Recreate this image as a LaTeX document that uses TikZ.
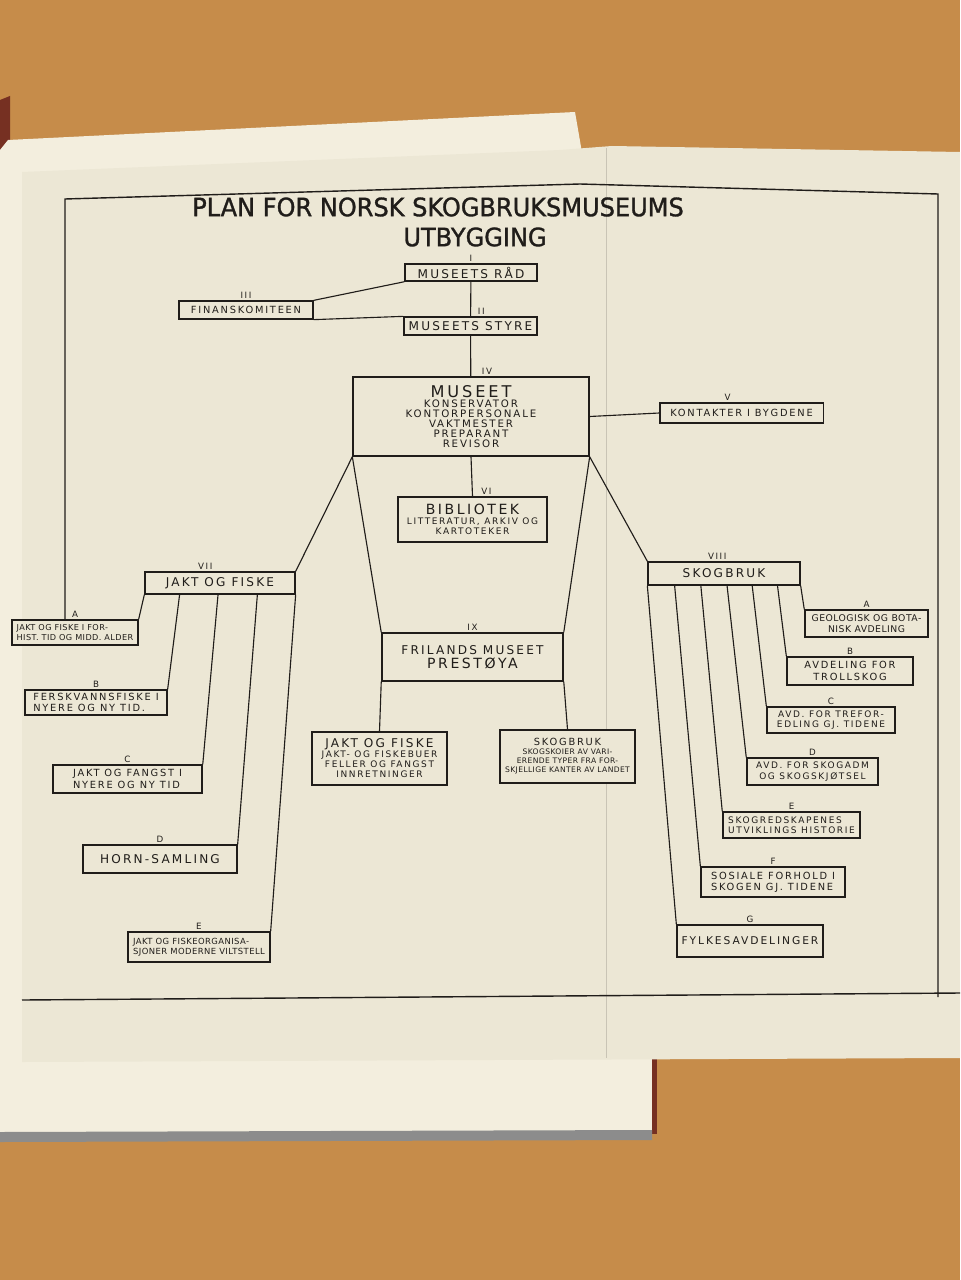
\documentclass[tikz,border=0pt]{standalone}
\usepackage{fontspec}
\usetikzlibrary{positioning, calc}
\usepackage{xcolor}

\newfontfamily\handfont[LetterSpace=18]{DejaVu Sans}
\newfontfamily\handtight[LetterSpace=5]{DejaVu Sans}
\newfontfamily\titlefont[FakeStretch=0.95, FakeBold=1.2]{DejaVu Sans}
\newcommand{\numhand}{\handfont\fontsize{6.2}{7}\selectfont}
\newcommand{\tinyhand}{\handtight\fontsize{5.8}{6.6}\selectfont}
\newcommand{\smallerhand}{\handfont\fontsize{6.4}{7.3}\selectfont}
\newcommand{\smallhand}{\handfont\fontsize{7}{8}\selectfont}
\newcommand{\midhand}{\handfont\fontsize{8.6}{9.6}\selectfont}
\newcommand{\bighand}{\handfont\fontsize{11.5}{12.5}\selectfont}

\definecolor{wood}{RGB}{198,140,74}
\definecolor{paper}{RGB}{236,231,213}
\definecolor{pagelow}{RGB}{243,238,222}
\definecolor{cover}{RGB}{118,48,34}
\definecolor{ink}{RGB}{32,29,26}

\begin{document}
\begin{tikzpicture}[
    x=0.025cm, y=-0.025cm,
    box/.style={draw=ink, fill=paper, line width=0.9pt, align=center, inner sep=1pt, text=ink, font=\smallhand},
    num/.style={text=ink, inner sep=1.2pt, font=\numhand},
    link/.style={draw=ink, line width=0.8pt},
    frame/.style={draw=ink, line width=1pt}
  ]
    % photo: table, book and fold-out sheet
    \fill[wood] (0,0) rectangle (960,1280);
    \fill[cover] (0,100) -- (10,96) -- (10,1140) -- (0,1140) -- cycle;
    \fill[pagelow] (8,140) -- (575,112) -- (585,170) -- (652,170) -- (652,1132) -- (0,1136) -- (0,150) -- cycle;
    \fill[cover] (652,1058) rectangle (657,1134);
    \fill[black!45] (0,1132) -- (652,1130) -- (652,1140) -- (0,1142) -- cycle;
    \fill[paper] (22,172) -- (560,150) -- (612,146) -- (960,152) -- (960,1058) -- (22,1062) -- cycle;
    \draw[paper!85!black, line width=0.6pt] (606,148) -- (606,1058);
    \draw[frame] (65,620) -- (65,199) -- (580,184) -- (938,194) -- (938,997);
    \draw[frame] (22,1000) -- (960,993);

    % title
    \node[text=ink, font=\titlefont\fontsize{18}{20}\selectfont, inner sep=0pt] (title1) at (438,207) {PLAN FOR NORSK SKOGBRUKSMUSEUMS};
    \node[text=ink, font=\titlefont\fontsize{18}{20}\selectfont, inner sep=0pt] (title2) at (475,237) {UTBYGGING};

    % top levels
    \node[box, font=\midhand, minimum width=3.3cm, minimum height=0.43cm, label={[num]above:I}] (raad) at (471,272.5) {MUSEETS RÅD};
    \node[box, font=\midhand, minimum width=3.33cm, minimum height=0.45cm, label={[num,xshift=0.27cm]above:II}] (styre) at (470.5,326) {MUSEETS STYRE};
    \node[box, minimum width=3.35cm, minimum height=0.45cm, label={[num]above:III}] (finans) at (246,310) {FINANSKOMITEEN};
    \node[box, font=\handfont\fontsize{7.3}{7.2}\selectfont, minimum width=5.9cm, minimum height=1.98cm, label={[num,xshift=0.4cm]above:IV}] (museet) at (471,416.5)
    {{\bighand MUSEET}\\KONSERVATOR\\KONTORPERSONALE\\VAKTMESTER\\PREPARANT\\REVISOR};
    \node[box, minimum width=4.08cm, minimum height=0.5cm, label={[num,xshift=-0.35cm]above:V}] (kontakt) at (741.5,413) {KONTAKTER I BYGDENE};
    \node[box, font=\smallerhand, minimum width=3.73cm, minimum height=1.13cm, label={[num,xshift=0.35cm]above:VI}] (bibl) at (472.5,519.5)
    {{\handfont\fontsize{10}{11}\selectfont BIBLIOTEK}\\LITTERATUR, ARKIV OG\\KARTOTEKER};
    \node[box, font=\midhand, minimum width=3.75cm, minimum height=0.55cm, label={[num,xshift=-0.37cm]above:VII}] (jakt) at (220,583) {JAKT OG FISKE};
    \node[box, font=\midhand, minimum width=3.8cm, minimum height=0.58cm, label={[num,xshift=-0.17cm]above:VIII}] (skog) at (724,573.5) {SKOGBRUK};
    \node[box, font=\midhand, minimum width=4.53cm, minimum height=1.2cm, label={[num]above:IX}] (fril) at (472.5,657)
    {FRILANDS MUSEET\\{\handfont\fontsize{10}{12}\selectfont PRESTØYA}};
    \node[box, font=\handfont\fontsize{6.4}{7.1}\selectfont, minimum width=3.38cm, minimum height=1.33cm] (fjakt) at (379.5,758.5)
    {{\midhand JAKT OG FISKE}\\JAKT- OG FISKEBUER\\FELLER OG FANGST\\INNRETNINGER};
    \node[box, font=\handtight\fontsize{5.4}{6.4}\selectfont, minimum width=3.38cm, minimum height=1.33cm] (fskog) at (567.5,756.5)
    {{\smallhand SKOGBRUK}\\SKOGSKOIER AV VARI-\\ERENDE TYPER FRA FOR-\\SKJELLIGE KANTER AV LANDET};

    % jakt og fiske
    \node[box, font=\tinyhand, align=left, minimum width=3.15cm, minimum height=0.63cm, label={[num]above:A}] (jA) at (75,632.5) {JAKT OG FISKE I FOR-\\HIST. TID OG MIDD. ALDER};
    \node[box, align=left, minimum width=3.55cm, minimum height=0.63cm, label={[num]above:B}] (jB) at (96,702.5) {FERSKVANNSFISKE I\\NYERE OG NY TID.};
    \node[box, align=left, minimum width=3.73cm, minimum height=0.7cm, label={[num]above:C}] (jC) at (127.5,779) {JAKT OG FANGST I\\NYERE OG NY TID};
    \node[box, font=\midhand, minimum width=3.85cm, minimum height=0.7cm, label={[num]above:D}] (jD) at (160,859) {HORN-SAMLING};
    \node[box, font=\handtight\fontsize{6}{7}\selectfont, align=left, minimum width=3.55cm, minimum height=0.75cm, label={[num]above:E}] (jE) at (199,947) {JAKT OG FISKEORGANISA-\\SJONER MODERNE VILTSTELL};

    % skogbruk
    \node[box, font=\handtight\fontsize{6.6}{7.4}\selectfont, minimum width=3.08cm, minimum height=0.68cm, label={[num]above:A}] (sA) at (866.5,623.5) {GEOLOGISK OG BOTA-\\NISK AVDELING};
    \node[box, minimum width=3.15cm, minimum height=0.7cm, label={[num]above:B}] (sB) at (850,671) {AVDELING FOR\\TROLLSKOG};
    \node[box, font=\smallerhand, minimum width=3.2cm, minimum height=0.65cm, label={[num]above:C}] (sC) at (831,720) {AVD. FOR TREFOR-\\EDLING GJ. TIDENE};
    \node[box, font=\smallerhand, minimum width=3.28cm, minimum height=0.68cm, label={[num]above:D}] (sD) at (812.5,771.5) {AVD. FOR SKOGADM\\OG SKOGSKJØTSEL};
    \node[box, font=\smallerhand, align=left, minimum width=3.43cm, minimum height=0.65cm, label={[num]above:E}] (sE) at (791.5,825) {SKOGREDSKAPENES\\UTVIKLINGS HISTORIE};
    \node[box, align=left, minimum width=3.6cm, minimum height=0.75cm, label={[num]above:F}] (sF) at (773,882) {SOSIALE FORHOLD I\\SKOGEN GJ. TIDENE};
    \node[box, font=\handfont\fontsize{7.6}{8.6}\selectfont, minimum width=3.65cm, minimum height=0.8cm, label={[num]above:G}] (sG) at (750,941) {FYLKESAVDELINGER};

    % connectors
    \draw[link] (finans.north east) -- (raad.south west);
    \draw[link] (finans.south east) -- (styre.north west);
    \draw[link] (raad) -- (styre);
    \draw[link] (styre) -- (museet);
    \draw[link] (museet.east) -- (kontakt.west);
    \draw[link] (museet.south) -- (bibl.north);
    \draw[link] (museet.south west) -- (fril.north west);
    \draw[link] (museet.south east) -- (fril.north east);
    \draw[link] (museet.south west) -- (jakt.north east);
    \draw[link] (museet.south east) -- (skog.north west);
    \draw[link] (fril.south west) -- (fjakt.north);
    \draw[link] (fril.south east) -- (fskog.north);
    \draw[link] (jakt.south west) -- (jA.north east);
    \foreach \f/\c in {0.233/jB, 0.487/jC, 0.747/jD}
      \draw[link] ($(jakt.south west)!\f!(jakt.south east)$) -- (\c.north east);
    \draw[link] (jakt.south east) -- (jE.north east);
    \draw[link] (skog.south west) -- (sG.north west);
    \foreach \f/\c in {0.178/sF, 0.349/sE, 0.52/sD, 0.684/sC, 0.849/sB}
      \draw[link] ($(skog.south west)!\f!(skog.south east)$) -- (\c.north west);
    \draw[link] (skog.south east) -- (sA.north west);
  \end{tikzpicture}
\end{document}
